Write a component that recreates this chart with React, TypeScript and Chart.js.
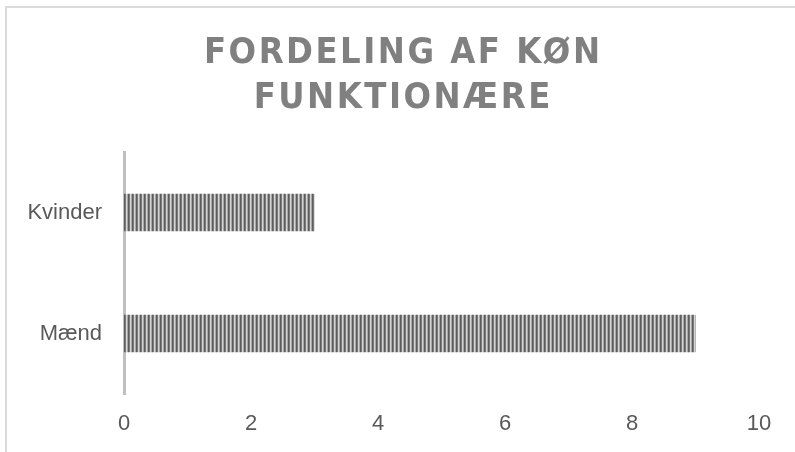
import { useEffect, useRef, useMemo } from 'react';
import { Chart, registerables } from 'chart.js';

Chart.register(...registerables);

const categories = ['Kvinder', 'Mænd'];
const values = [3, 9];
const xMin = 0;
const xMax = 10;
const xStep = 2;
const titleLines = ['FORDELING AF KØN', 'FUNKTIONÆRE'];

const TITLE_FAMILY = "'Liberation Sans Narrow', 'DejaVu Sans Condensed', 'Liberation Sans', Arial, sans-serif";
const TICK_FAMILY = "'Liberation Sans', Arial, sans-serif";
const TITLE_SIZE = 36;
const TITLE_TARGET_WIDTH = 396;

function makePattern(ctx: CanvasRenderingContext2D): CanvasPattern | string {
  const c = document.createElement('canvas');
  c.width = 4;
  c.height = 4;
  const p = c.getContext('2d');
  if (!p) return '#909090';
  const cols = ['#5e5e5e', '#7a7a7a', '#d6d6d6', '#a8a8a8'];
  cols.forEach((col, i) => {
    p.fillStyle = col;
    p.fillRect(i, 0, 1, 4);
  });
  return ctx.createPattern(c, 'repeat') || '#909090';
}

export default function App() {
  const canvasRef = useRef<HTMLCanvasElement | null>(null);

  const letterSpacing = useMemo(() => {
    const c = document.createElement('canvas');
    const ctx = c.getContext('2d');
    if (!ctx) return 3;
    ctx.font = `bold ${TITLE_SIZE}px ${TITLE_FAMILY}`;
    const w = ctx.measureText(titleLines[0]).width;
    const n = titleLines[0].length - 1;
    return Math.max(0, (TITLE_TARGET_WIDTH - w) / n);
  }, []);

  useEffect(() => {
    const canvas = canvasRef.current;
    if (!canvas) return;
    const ctx = canvas.getContext('2d');
    if (!ctx) return;
    const pattern = makePattern(ctx);
    const tickFont = { family: TICK_FAMILY, size: 22 };
    const chart = new Chart(canvas, {
      type: 'bar',
      data: {
        labels: categories,
        datasets: [
          {
            data: values,
            backgroundColor: pattern as any,
            borderWidth: 0,
            barThickness: 37,
          },
        ],
      },
      options: {
        responsive: false,
        animation: false,
        indexAxis: 'y',
        layout: { padding: { top: 152, left: 0, right: 36, bottom: 0 } },
        plugins: {
          legend: { display: false },
          title: { display: false },
          tooltip: { enabled: false },
        },
        scales: {
          x: {
            min: xMin,
            max: xMax,
            ticks: { stepSize: xStep, font: tickFont, color: '#595959', padding: 17 },
            grid: { display: false, drawTicks: false },
            border: { display: false },
            afterFit: (s: any) => {
              s.height = 58;
            },
          },
          y: {
            ticks: { font: tickFont, color: '#595959', padding: 22 },
            grid: { display: false, drawTicks: false },
            border: { display: true, color: '#bfbfbf', width: 3 },
            afterFit: (s: any) => {
              s.width = 124;
            },
          },
        },
      },
    });
    return () => chart.destroy();
  }, []);

  return (
    <div
      style={{
        position: 'fixed',
        left: 0,
        top: 0,
        width: 795,
        height: 452,
        overflow: 'hidden',
        background: '#ffffff',
      }}
    >
      <div
        style={{
          position: 'absolute',
          left: 5,
          top: 6,
          width: 900,
          height: 600,
          border: '2px solid #dadada',
          boxSizing: 'border-box',
        }}
      />
      <canvas
        ref={canvasRef}
        width={795}
        height={452}
        style={{ position: 'absolute', left: 0, top: 0, display: 'block' }}
      />
      <div
        style={{
          position: 'absolute',
          left: 0,
          top: 28,
          width: 804,
          textAlign: 'center',
          fontFamily: TITLE_FAMILY,
          fontWeight: 'bold',
          fontSize: TITLE_SIZE,
          lineHeight: '45px',
          color: '#808080',
          letterSpacing: `${letterSpacing}px`,
          paddingLeft: letterSpacing,
          boxSizing: 'border-box',
          whiteSpace: 'nowrap',
        }}
      >
        {titleLines.map((t) => (
          <div key={t}>{t}</div>
        ))}
      </div>
    </div>
  );
}
